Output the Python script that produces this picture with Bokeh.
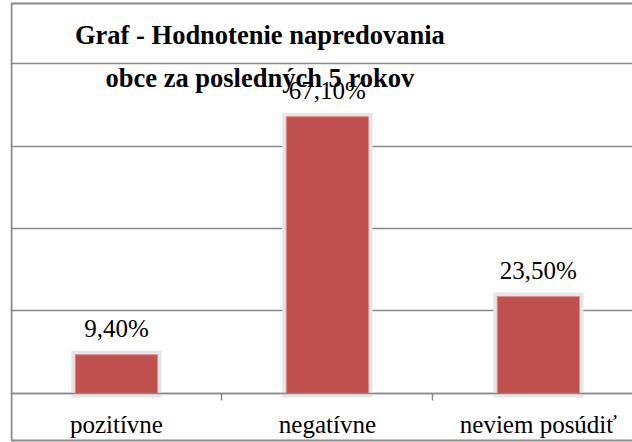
from bokeh.plotting import figure
from bokeh.models import (ColumnDataSource, Range1d, FixedTicker, LabelSet, Label,
                          BoxAnnotation)
from bokeh.embed import file_html
from bokeh.resources import INLINE

# ---- data ----
categories = ["pozitívne", "negatívne", "neviem posúdiť"]
values = [9.4, 67.1, 23.5]
value_labels = [f"{v:.2f}%".replace(".", ",") for v in values]
y_ticks = [0, 20, 40, 60, 80]
title_lines = ["Graf - Hodnotenie napredovania", "obce za posledných 5 rokov"]

positions = [i + 0.5 for i in range(len(categories))]
source = ColumnDataSource(dict(x=positions, top=values, label=value_labels))

SERIF = "Liberation Serif"
GRAY = "#8a8a8a"

p = figure(width=632, height=442, output_backend="svg", toolbar_location=None,
           x_range=Range1d(-0.002, 2.946), y_range=Range1d(-11.879, 95.273),
           y_axis_location=None, min_border=0, min_border_left=10,
           min_border_right=0, min_border_top=0, min_border_bottom=0)
p.outline_line_color = None
p.background_fill_color = "white"
p.border_fill_color = "white"

# grid
p.xgrid.visible = False
p.ygrid.ticker = FixedTicker(ticks=y_ticks)
p.ygrid.grid_line_color = GRAY
p.ygrid.grid_line_width = 1.5

# x axis (drawn at y = 0)
ax = p.xaxis[0]
ax.fixed_location = 0
ax.ticker = FixedTicker(ticks=positions, minor_ticks=[1, 2])
ax.major_label_overrides = {pos: c for pos, c in zip(positions, categories)}
ax.major_tick_line_color = None
ax.major_tick_out = 0
ax.major_tick_in = 0
ax.minor_tick_line_color = GRAY
ax.minor_tick_line_width = 1.5
ax.minor_tick_out = 7
ax.minor_tick_in = 0
ax.axis_line_color = GRAY
ax.axis_line_width = 1.5
ax.major_label_text_font = SERIF
ax.major_label_text_font_size = "25px"
ax.major_label_text_color = "black"
ax.major_label_standoff = 11

# bars with soft halo
p.vbar(x="x", top="top", width=0.39, bottom=0, source=source,
       fill_color=None, line_color="#e6e6e6", line_width=8, line_join="miter")
p.vbar(x="x", top="top", width=0.39, bottom=0, source=source,
       fill_color="#C0504D", line_color="#d98f8d", line_width=1)

# value labels
p.add_layout(LabelSet(x="x", y="top", text="label", source=source,
                      y_offset=18, text_align="center", text_baseline="alphabetic",
                      text_font=SERIF, text_font_size="25px", text_color="black"))

# title
for line, yy in zip(title_lines, [86.8, 76.6]):
    p.add_layout(Label(x=1.18, y=yy, text=line, text_align="center",
                       text_baseline="alphabetic", text_font=SERIF,
                       text_font_size="26.5px", text_font_style="bold",
                       text_color="black"))

# chart border
p.add_layout(BoxAnnotation(left=11, right=1000, top=3, bottom=440,
                           left_units="canvas", right_units="canvas",
                           top_units="canvas", bottom_units="canvas",
                           fill_alpha=0, line_color=GRAY, line_width=2,
                           line_alpha=1))

open("out.html", "w").write(file_html(p, INLINE))
